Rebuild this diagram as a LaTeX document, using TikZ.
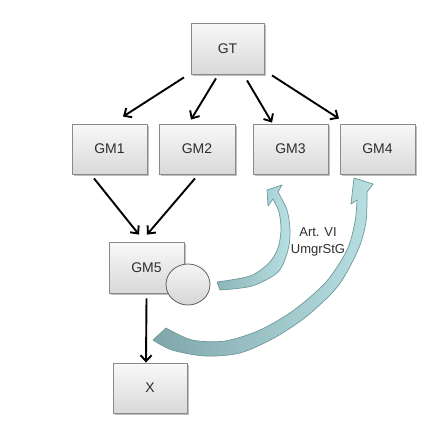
\documentclass[tikz,border=0pt]{standalone}
\usepackage{fontspec}
\setmainfont{Liberation Sans}
\usetikzlibrary{arrows.meta,shadows,calc,shapes.geometric}
\definecolor{boxline}{HTML}{8A8A8A}
\definecolor{txt}{HTML}{2E2E2E}
\definecolor{tealdark}{HTML}{7FA7AA}
\definecolor{tealmid}{HTML}{8CB5B8}
\definecolor{teallight}{HTML}{B8DFE2}
\definecolor{tealedge}{HTML}{6E999C}
\begin{document}
\begin{tikzpicture}[x=1pt,y=-1pt,
  box/.style={draw=boxline, line width=0.8pt, top color=gray!5, bottom color=gray!30,
    minimum width=75pt, minimum height=50pt, inner sep=0pt, text=txt,
    font=\fontsize{14}{16}\selectfont,
    drop shadow={shadow xshift=1.5pt, shadow yshift=-1.5pt, opacity=0.25, fill=black}},
  arr/.style={line width=1.9pt, -{Straight Barb[length=6pt,width=11pt,line width=1.9pt]}},
  bigarrow/.style={draw=tealedge, line width=0.7pt, line join=round}
]
\useasboundingbox (0,0) rectangle (442,431);
\fill[white] (0,0) rectangle (442,431);

% boxes
\node[box, minimum width=73pt, minimum height=51pt] (GT) at (227.5,48.5) {GT};
\node[box] (GM1) at (109.5,149) {GM1};
\node[box, minimum width=76pt] (GM2) at (197,149) {GM2};
\node[box] (GM3) at (290.5,149) {GM3};
\node[box] (GM4) at (377.5,149) {GM4};
\node[box, minimum height=51pt] (GM5) at (146.5,267.5) {GM5};
\node[box, minimum width=74pt] (X) at (150,388) {X};
\node[ellipse, draw=gray!75!black, line width=0.8pt, top color=gray!8, bottom color=gray!32,
      minimum width=44pt, minimum height=41pt, inner sep=0pt] (C) at (188,284.5) {};

% black arrows
\draw[arr] ($(GT.south)+(-43.5,3)$) -- ($(GM1.north)+(13.5,-7)$);
\draw[arr] ($(GT.south)+(-11.5,4)$) -- ($(GM2.north)+(-6,-4)$);
\draw[arr] ($(GT.south)+(19.5,6)$) -- ($(GM3.north)+(-18.5,-1)$);
\draw[arr] ($(GT.south)+(44.5,1)$) -- ($(GM4.north)+(-38.5,-5)$);
\draw[arr] ($(GM1.south)+(-15.5,4)$) -- ($(GM5.north)+(-7.5,-7)$);
\draw[arr] ($(GM2.south)+(-2,4)$) -- ($(GM5.north)+(0.5,-7)$);
\draw[arr] ($(GM5.south)+(0,5)$) -- ($(X.north)+(-4,0)$);

% curved teal arrows
\shadedraw[bigarrow, left color=tealmid, right color=teallight]
  plot[smooth] coordinates {(220,290) (252,286) (278,272) (288,250) (290,230) (287,210) (278,192)}
  -- (282,185) -- (267,190) -- (268,206) -- (273,199)
  -- plot[smooth] coordinates {(273,199) (279,212) (281,230) (278,248) (269,263) (250,276) (217,282)} -- cycle;
\shadedraw[bigarrow, left color=tealdark, right color=teallight]
  plot[smooth] coordinates {(153,340) (172,350) (205,356) (240,353) (274,338) (307,316) (338,286) (358,250) (366,222) (367,192)}
  -- (373,184) -- (354,178) -- (351,204) -- (357,200)
  -- plot[smooth] coordinates {(357,200) (355,222) (347,250) (326,282) (294,310) (260,330) (225,341) (192,340) (166,328)} -- cycle;

\node[text=txt, align=center, font=\fontsize{13}{17}\selectfont] (lbl) at (318,242) {Art. VI\\UmgrStG};
\end{tikzpicture}
\end{document}
